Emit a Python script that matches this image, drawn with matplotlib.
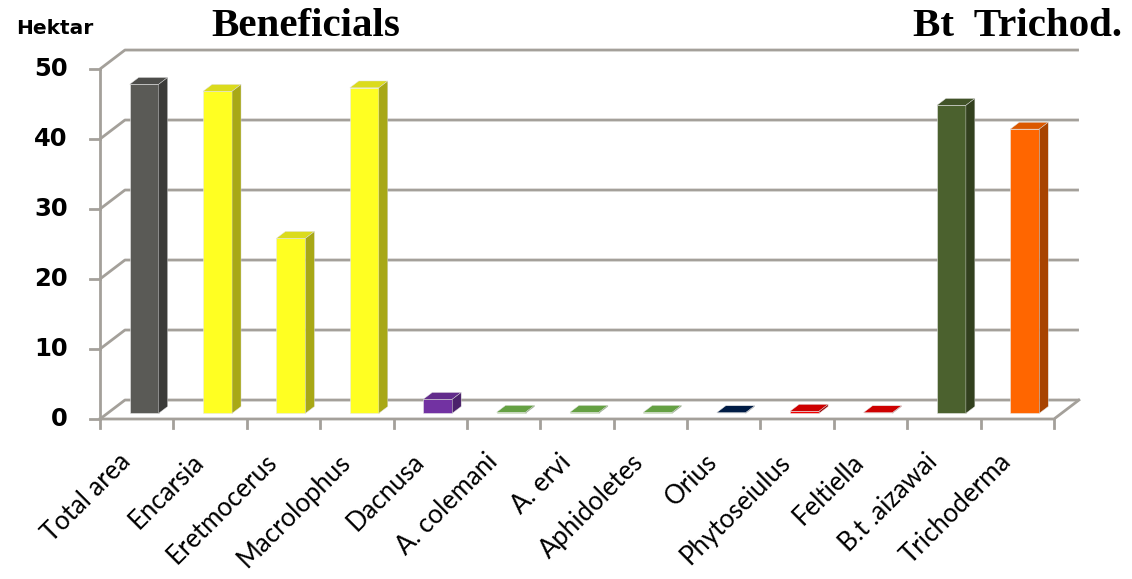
import matplotlib
matplotlib.use("Agg")
import matplotlib.pyplot as plt
from matplotlib.patches import Polygon
import matplotlib.colors as mcolors

categories = ["Total area", "Encarsia", "Eretmocerus", "Macrolophus", "Dacnusa",
              "A. colemani", "A. ervi", "Aphidoletes", "Orius", "Phytoseiulus",
              "Feltiella", "B.t .aizawai", "Trichoderma"]
values = [47, 46, 25, 46.5, 2, 0.15, 0.15, 0.15, 0.1, 0.3, 0.1, 44, 40.6]
bar_colors = ["#5a5a56", "#ffff22", "#ffff22", "#ffff22", "#7232a2", "#76bb4e",
              "#76bb4e", "#76bb4e", "#002050", "#f00000", "#f00000", "#4b612e", "#ff6600"]
yticks = [0, 10, 20, 30, 40, 50]

# geometry (data units)
DX, DY = 0.34, 2.71          # depth offset of back wall
F0, F1 = 0.30, 0.66          # bar depth position (fraction of depth)
BW = 0.395                   # bar width
N = len(categories)
grid_col = "#a4a09a"

fig = plt.figure(figsize=(11.32, 5.79), dpi=100)
ax = fig.add_axes([0.07537, 0.25216, 0.89461, 0.67703])
ax.set_xlim(-0.2, 13.6)
ax.set_ylim(-2, 54)
ax.axis("off")

# back wall gridlines with slanted left segments
for v in yticks:
    ax.plot([0, DX, N + DX], [v, v + DY, v + DY], color=grid_col, lw=2.0,
            solid_capstyle="butt", zorder=1)
# floor
ax.plot([0, N, N + DX], [0, 0, DY], color=grid_col, lw=2.0, zorder=1)
# front vertical axis
ax.plot([0, 0], [0, 50], color=grid_col, lw=2.0, zorder=1)
# y ticks
for v in yticks:
    ax.plot([-0.14, 0], [v, v], color=grid_col, lw=2.0, zorder=1)
    ax.text(-0.44, v, str(v), ha="right", va="center", fontsize=17.5,
            fontweight="bold", color="black", family="DejaVu Sans")
# x ticks
for i in range(N + 1):
    ax.plot([i, i], [0, -1.3], color=grid_col, lw=2.0, zorder=1)


def shade(c, f):
    r, g, b = mcolors.to_rgb(c)
    return (r * f, g * f, b * f)


# bars
xs = [i + 0.5 + F0 * DX for i in range(N)]
b0 = F0 * DY
ddx = (F1 - F0) * DX
ddy = (F1 - F0) * DY
ax.bar(xs, values, width=BW, bottom=b0, color=bar_colors, edgecolor="#e8e8e8",
       linewidth=0.4, zorder=3)
for x, h, c in zip(xs, values, bar_colors):
    x0, x1 = x - BW / 2, x + BW / 2
    top = b0 + h
    ax.add_patch(Polygon([(x0, top), (x1, top), (x1 + ddx, top + ddy), (x0 + ddx, top + ddy)],
                         closed=True, facecolor=shade(c, 0.86), edgecolor="#e0e0e0",
                         linewidth=0.3, zorder=3))
    ax.add_patch(Polygon([(x1, b0), (x1, top), (x1 + ddx, top + ddy), (x1 + ddx, b0 + ddy)],
                         closed=True, facecolor=shade(c, 0.66), edgecolor="#e0e0e0",
                         linewidth=0.3, zorder=3))

# category labels
for i, lab in enumerate(categories):
    ax.text(i + 0.36, -5.6, lab, rotation=45, rotation_mode="anchor",
            ha="right", va="center", fontsize=18.5, family="Lato", color="black",
            clip_on=False)

fig.text(16 / 1132, 1 - 28 / 579, "Hektar", ha="left", va="center", fontsize=14.5,
         fontweight="bold", family="DejaVu Sans", color="black")
fig.text(306 / 1132, 1 - 26 / 579, "Beneficials", ha="center", va="center",
         fontsize=29.5, fontweight="bold", family="Liberation Serif", color="black")
fig.text(1017 / 1132, 1 - 26 / 579, "Bt  Trichod.", ha="center", va="center",
         fontsize=29.5, fontweight="bold", family="Liberation Serif", color="black")

fig.savefig("out.png", dpi=100)
